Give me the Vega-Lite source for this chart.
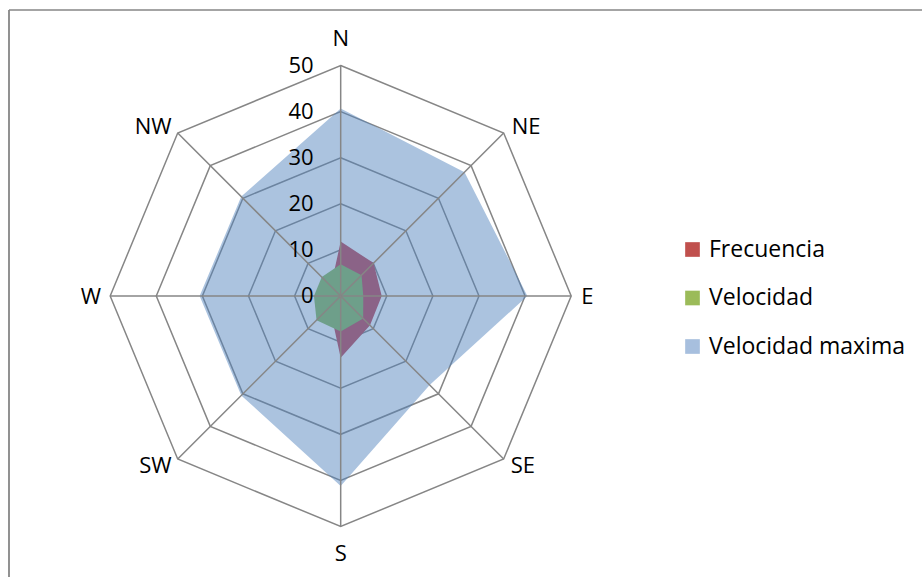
{
  "$schema": "https://vega.github.io/schema/vega-lite/v6.json",
  "width": 913,
  "height": 567,
  "padding": {"left": 9, "top": 10, "right": 0, "bottom": 0},
  "autosize": {"type": "none"},
  "background": "white",
  "config": {
    "view": {"stroke": null},
    "font": "Open Sans",
    "text": {"font": "Open Sans", "color": "#000000"}
  },
  "datasets": {
    "series": [
      {"series": "Velocidad maxima", "dir": "N", "value": 40.7},
      {"series": "Velocidad maxima", "dir": "NE", "value": 38},
      {"series": "Velocidad maxima", "dir": "E", "value": 40.5},
      {"series": "Velocidad maxima", "dir": "SE", "value": 27.3},
      {"series": "Velocidad maxima", "dir": "S", "value": 41.2},
      {"series": "Velocidad maxima", "dir": "SW", "value": 30.5},
      {"series": "Velocidad maxima", "dir": "W", "value": 30.6},
      {"series": "Velocidad maxima", "dir": "NW", "value": 30.5},
      {"series": "Frecuencia", "dir": "N", "value": 11.8},
      {"series": "Frecuencia", "dir": "NE", "value": 10.1},
      {"series": "Frecuencia", "dir": "E", "value": 8.9},
      {"series": "Frecuencia", "dir": "SE", "value": 9},
      {"series": "Frecuencia", "dir": "S", "value": 13.4},
      {"series": "Frecuencia", "dir": "SW", "value": 3.4},
      {"series": "Frecuencia", "dir": "W", "value": 3},
      {"series": "Frecuencia", "dir": "NW", "value": 3},
      {"series": "Velocidad", "dir": "N", "value": 6.9},
      {"series": "Velocidad", "dir": "NE", "value": 6.4},
      {"series": "Velocidad", "dir": "E", "value": 4.9},
      {"series": "Velocidad", "dir": "SE", "value": 6.9},
      {"series": "Velocidad", "dir": "S", "value": 7.7},
      {"series": "Velocidad", "dir": "SW", "value": 7.4},
      {"series": "Velocidad", "dir": "W", "value": 5.8},
      {"series": "Velocidad", "dir": "NW", "value": 5.8}
    ],
    "rings": [
      {"r": 10, "dir": ["N", "NE", "E", "SE", "S", "SW", "W", "NW"]},
      {"r": 20, "dir": ["N", "NE", "E", "SE", "S", "SW", "W", "NW"]},
      {"r": 30, "dir": ["N", "NE", "E", "SE", "S", "SW", "W", "NW"]},
      {"r": 40, "dir": ["N", "NE", "E", "SE", "S", "SW", "W", "NW"]},
      {"r": 50, "dir": ["N", "NE", "E", "SE", "S", "SW", "W", "NW"]}
    ],
    "ticks": [{"t": 0}, {"t": 10}, {"t": 20}, {"t": 30}, {"t": 40}, {"t": 50}],
    "dirs": [
      {"dir": "N", "r": 50}, {"dir": "NE", "r": 50}, {"dir": "E", "r": 50}, {"dir": "SE", "r": 50},
      {"dir": "S", "r": 50}, {"dir": "SW", "r": 50}, {"dir": "W", "r": 50}, {"dir": "NW", "r": 50}
    ],
    "legend": [
      {"series": "Frecuencia"}, {"series": "Velocidad"}, {"series": "Velocidad maxima"}
    ],
    "frame": [{"edge": "top"}]
  },
  "layer": [
    {
      "data": {"name": "frame"},
      "mark": {"type": "rule", "stroke": "#868686", "strokeWidth": 1.5},
      "encoding": {
        "y": {"datum": 62.04, "type": "quantitative", "scale": {"domain": [-60.95, 62.04], "nice": false, "zero": false}, "axis": null}
      }
    },
    {
      "data": {"name": "frame"},
      "mark": {"type": "rule", "stroke": "#868686", "strokeWidth": 1.8},
      "encoding": {
        "x": {"datum": -71.95, "type": "quantitative", "scale": {"domain": [-71.95, 126.1], "nice": false, "zero": false}, "axis": null}
      }
    },
    {
      "data": {"name": "rings"},
      "transform": [
        {"flatten": ["dir"]},
        {"calculate": "indexof(['N','NE','E','SE','S','SW','W','NW'], datum.dir)", "as": "i"},
        {"calculate": "datum.r * sin(datum.i * PI / 4)", "as": "px"},
        {"calculate": "datum.r * cos(datum.i * PI / 4)", "as": "py"}
      ],
      "mark": {"type": "line", "interpolate": "linear-closed", "stroke": "#868686", "strokeWidth": 1.5},
      "encoding": {
        "x": {"field": "px", "type": "quantitative", "scale": {"domain": [-71.95, 126.1], "nice": false, "zero": false}, "axis": null},
        "y": {"field": "py", "type": "quantitative", "scale": {"domain": [-60.95, 62.04], "nice": false, "zero": false}, "axis": null},
        "detail": {"field": "r", "type": "nominal"},
        "order": {"field": "i", "type": "quantitative"}
      }
    },
    {
      "data": {"name": "series"},
      "transform": [
        {"filter": "datum.series == 'Velocidad maxima'"},
        {"calculate": "indexof(['N','NE','E','SE','S','SW','W','NW'], datum.dir)", "as": "i"},
        {"calculate": "datum.value * sin(datum.i * PI / 4)", "as": "px"},
        {"calculate": "datum.value * cos(datum.i * PI / 4)", "as": "py"}
      ],
      "mark": {"type": "line", "interpolate": "linear-closed", "fill": "#4F81BD", "fillOpacity": 0.48, "strokeWidth": 0, "strokeOpacity": 0},
      "encoding": {
        "x": {"field": "px", "type": "quantitative"},
        "y": {"field": "py", "type": "quantitative"},
        "order": {"field": "i", "type": "quantitative"}
      }
    },
    {
      "data": {"name": "series"},
      "transform": [
        {"filter": "datum.series == 'Frecuencia'"},
        {"calculate": "indexof(['N','NE','E','SE','S','SW','W','NW'], datum.dir)", "as": "i"},
        {"calculate": "datum.value * sin(datum.i * PI / 4)", "as": "px"},
        {"calculate": "datum.value * cos(datum.i * PI / 4)", "as": "py"}
      ],
      "mark": {"type": "line", "interpolate": "linear-closed", "fill": "#8B6387", "fillOpacity": 1, "strokeWidth": 0, "strokeOpacity": 0},
      "encoding": {
        "x": {"field": "px", "type": "quantitative"},
        "y": {"field": "py", "type": "quantitative"},
        "order": {"field": "i", "type": "quantitative"}
      }
    },
    {
      "data": {"name": "series"},
      "transform": [
        {"filter": "datum.series == 'Velocidad'"},
        {"calculate": "indexof(['N','NE','E','SE','S','SW','W','NW'], datum.dir)", "as": "i"},
        {"calculate": "datum.value * sin(datum.i * PI / 4)", "as": "px"},
        {"calculate": "datum.value * cos(datum.i * PI / 4)", "as": "py"}
      ],
      "mark": {"type": "line", "interpolate": "linear-closed", "fill": "#6E9F8A", "fillOpacity": 1, "strokeWidth": 0, "strokeOpacity": 0},
      "encoding": {
        "x": {"field": "px", "type": "quantitative"},
        "y": {"field": "py", "type": "quantitative"},
        "order": {"field": "i", "type": "quantitative"}
      }
    },
    {
      "data": {"name": "dirs"},
      "transform": [
        {"calculate": "indexof(['N','NE','E','SE','S','SW','W','NW'], datum.dir)", "as": "i"},
        {"calculate": "datum.r * sin(datum.i * PI / 4)", "as": "px"},
        {"calculate": "datum.r * cos(datum.i * PI / 4)", "as": "py"}
      ],
      "mark": {"type": "rule", "stroke": "#868686", "strokeWidth": 1.5},
      "encoding": {
        "x": {"field": "px", "type": "quantitative"},
        "y": {"field": "py", "type": "quantitative"},
        "x2": {"datum": 0},
        "y2": {"datum": 0}
      }
    },
    {
      "data": {"name": "ticks"},
      "mark": {"type": "text", "align": "right", "baseline": "middle", "dx": -27, "fontSize": 22, "color": "#000000"},
      "encoding": {
        "x": {"datum": 0, "type": "quantitative"},
        "y": {"field": "t", "type": "quantitative"},
        "text": {"field": "t", "type": "quantitative"}
      }
    },
    {
      "data": {"name": "dirs"},
      "transform": [
        {"filter": "datum.dir == 'N'"},
        {"calculate": "0", "as": "px"},
        {"calculate": "datum.r", "as": "py"}
      ],
      "mark": {"type": "text", "align": "center", "baseline": "alphabetic", "dy": -20, "fontSize": 22},
      "encoding": {"x": {"field": "px", "type": "quantitative"}, "y": {"field": "py", "type": "quantitative"}, "text": {"field": "dir"}}
    },
    {
      "data": {"name": "dirs"},
      "transform": [
        {"filter": "datum.dir == 'S'"},
        {"calculate": "0", "as": "px"},
        {"calculate": "-datum.r", "as": "py"}
      ],
      "mark": {"type": "text", "align": "center", "baseline": "alphabetic", "dy": 34, "fontSize": 22},
      "encoding": {"x": {"field": "px", "type": "quantitative"}, "y": {"field": "py", "type": "quantitative"}, "text": {"field": "dir"}}
    },
    {
      "data": {"name": "dirs"},
      "transform": [
        {"filter": "datum.dir == 'NE'"},
        {"calculate": "datum.r * sin(PI / 4)", "as": "px"},
        {"calculate": "datum.r * cos(PI / 4)", "as": "py"}
      ],
      "mark": {"type": "text", "align": "left", "baseline": "alphabetic", "dx": 8, "dy": 1, "fontSize": 22},
      "encoding": {"x": {"field": "px", "type": "quantitative"}, "y": {"field": "py", "type": "quantitative"}, "text": {"field": "dir"}}
    },
    {
      "data": {"name": "dirs"},
      "transform": [
        {"filter": "datum.dir == 'NW'"},
        {"calculate": "-datum.r * sin(PI / 4)", "as": "px"},
        {"calculate": "datum.r * cos(PI / 4)", "as": "py"}
      ],
      "mark": {"type": "text", "align": "right", "baseline": "alphabetic", "dx": -6, "dy": 1, "fontSize": 22},
      "encoding": {"x": {"field": "px", "type": "quantitative"}, "y": {"field": "py", "type": "quantitative"}, "text": {"field": "dir"}}
    },
    {
      "data": {"name": "dirs"},
      "transform": [
        {"filter": "datum.dir == 'E'"},
        {"calculate": "datum.r", "as": "px"},
        {"calculate": "0", "as": "py"}
      ],
      "mark": {"type": "text", "align": "left", "baseline": "alphabetic", "dx": 10, "dy": 8, "fontSize": 22},
      "encoding": {"x": {"field": "px", "type": "quantitative"}, "y": {"field": "py", "type": "quantitative"}, "text": {"field": "dir"}}
    },
    {
      "data": {"name": "dirs"},
      "transform": [
        {"filter": "datum.dir == 'W'"},
        {"calculate": "-datum.r", "as": "px"},
        {"calculate": "0", "as": "py"}
      ],
      "mark": {"type": "text", "align": "right", "baseline": "alphabetic", "dx": -9, "dy": 8, "fontSize": 22},
      "encoding": {"x": {"field": "px", "type": "quantitative"}, "y": {"field": "py", "type": "quantitative"}, "text": {"field": "dir"}}
    },
    {
      "data": {"name": "dirs"},
      "transform": [
        {"filter": "datum.dir == 'SE'"},
        {"calculate": "datum.r * sin(PI / 4)", "as": "px"},
        {"calculate": "-datum.r * cos(PI / 4)", "as": "py"}
      ],
      "mark": {"type": "text", "align": "left", "baseline": "alphabetic", "dx": 7, "dy": 14, "fontSize": 22},
      "encoding": {"x": {"field": "px", "type": "quantitative"}, "y": {"field": "py", "type": "quantitative"}, "text": {"field": "dir"}}
    },
    {
      "data": {"name": "dirs"},
      "transform": [
        {"filter": "datum.dir == 'SW'"},
        {"calculate": "-datum.r * sin(PI / 4)", "as": "px"},
        {"calculate": "-datum.r * cos(PI / 4)", "as": "py"}
      ],
      "mark": {"type": "text", "align": "right", "baseline": "alphabetic", "dx": -6, "dy": 14, "fontSize": 22},
      "encoding": {"x": {"field": "px", "type": "quantitative"}, "y": {"field": "py", "type": "quantitative"}, "text": {"field": "dir"}}
    },
    {
      "data": {"name": "legend"},
      "mark": {"type": "point", "shape": "square", "filled": true, "opacity": 0},
      "encoding": {
        "x": {"datum": 0, "type": "quantitative"},
        "y": {"datum": 0, "type": "quantitative"},
        "fill": {
          "field": "series",
          "type": "nominal",
          "scale": {"domain": ["Frecuencia", "Velocidad", "Velocidad maxima"], "range": ["#C0504D", "#9BBB59", "#A7BFDE"]},
          "legend": {
            "title": null,
            "orient": "none",
            "legendX": 672,
            "legendY": 228,
            "padding": 0,
            "symbolType": "square",
            "symbolSize": 215,
            "symbolStrokeWidth": 0,
            "symbolOpacity": 1,
            "labelFont": "Open Sans",
            "labelFontSize": 23,
            "labelColor": "#000000",
            "labelOffset": 5,
            "labelLimit": 0,
            "rowPadding": 24.5
          }
        }
      }
    }
  ]
}
